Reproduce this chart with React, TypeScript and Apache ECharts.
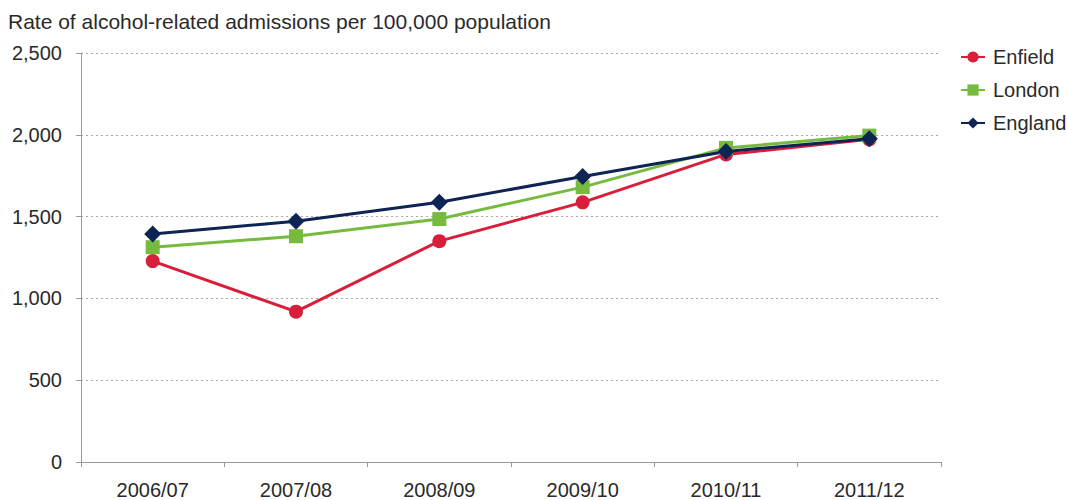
import React, { useEffect, useRef } from "react";
import * as echarts from "echarts";

const categories = ["2006/07", "2007/08", "2008/09", "2009/10", "2010/11", "2011/12"];
const enfield = [1228, 919, 1350, 1587, 1880, 1972];
const london = [1313, 1380, 1485, 1680, 1920, 1995];
const england = [1393, 1472, 1588, 1745, 1898, 1976];
const yTicks = [0, 500, 1000, 1500, 2000, 2500];
const titleText = "Rate of alcohol-related admissions per 100,000 population";

const FONT = "Liberation Sans";
const TXT = "#2a2a2a";

export default function App() {
  const ref = useRef<HTMLDivElement>(null);
  useEffect(() => {
    const chart = echarts.init(ref.current!, null, { renderer: "svg" });
    const mk = (name: string, data: number[], color: string, symbol: string, size: number) => ({
      name,
      type: "line",
      data,
      symbol,
      symbolSize: size,
      lineStyle: { color, width: 3 },
      itemStyle: { color },
      emphasis: { disabled: true },
    });
    chart.setOption({
      animation: false,
      textStyle: { fontFamily: FONT },
      title: {
        text: titleText,
        left: 3,
        top: 6,
        textStyle: { fontSize: 21, fontWeight: "normal", color: TXT, fontFamily: FONT },
      },
      legend: {
        orient: "vertical",
        left: 955,
        top: 42,
        itemWidth: 24,
        itemHeight: 14,
        itemGap: 13,
        textStyle: { fontSize: 20, color: TXT, fontFamily: FONT, padding: [0, 0, 0, 3] },
        data: ["Enfield", "London", "England"],
      },
      grid: { left: 81, right: 126, top: 53, bottom: 37, containLabel: false },
      xAxis: {
        type: "category",
        data: categories,
        boundaryGap: true,
        axisLine: { lineStyle: { color: "#999", width: 1 } },
        axisTick: { show: true, length: 5, lineStyle: { color: "#999" } },
        axisLabel: { fontSize: 20, color: TXT, margin: 18 },
      },
      yAxis: {
        type: "value",
        min: yTicks[0],
        max: yTicks[yTicks.length - 1],
        interval: 500,
        axisLine: { show: true, lineStyle: { color: "#999", width: 1 } },
        axisTick: { show: true, length: 5, lineStyle: { color: "#999" } },
        axisLabel: {
          fontSize: 20,
          color: TXT,
          margin: 19,
          formatter: (v: number) => v.toLocaleString("en-US"),
        },
        splitLine: { show: true, lineStyle: { color: "#aaa", type: [2, 3], width: 1 } },
      },
      series: [
        mk("Enfield", enfield, "#d81e3a", "circle", 14),
        mk("London", london, "#76bb3f", "rect", 14),
        mk("England", england, "#0e2453", "diamond", 17),
      ],
    });
    return () => chart.dispose();
  }, []);
  return <div ref={ref} style={{ width: 1067, height: 500, position: "absolute", left: 0, top: 0 }} />;
}
